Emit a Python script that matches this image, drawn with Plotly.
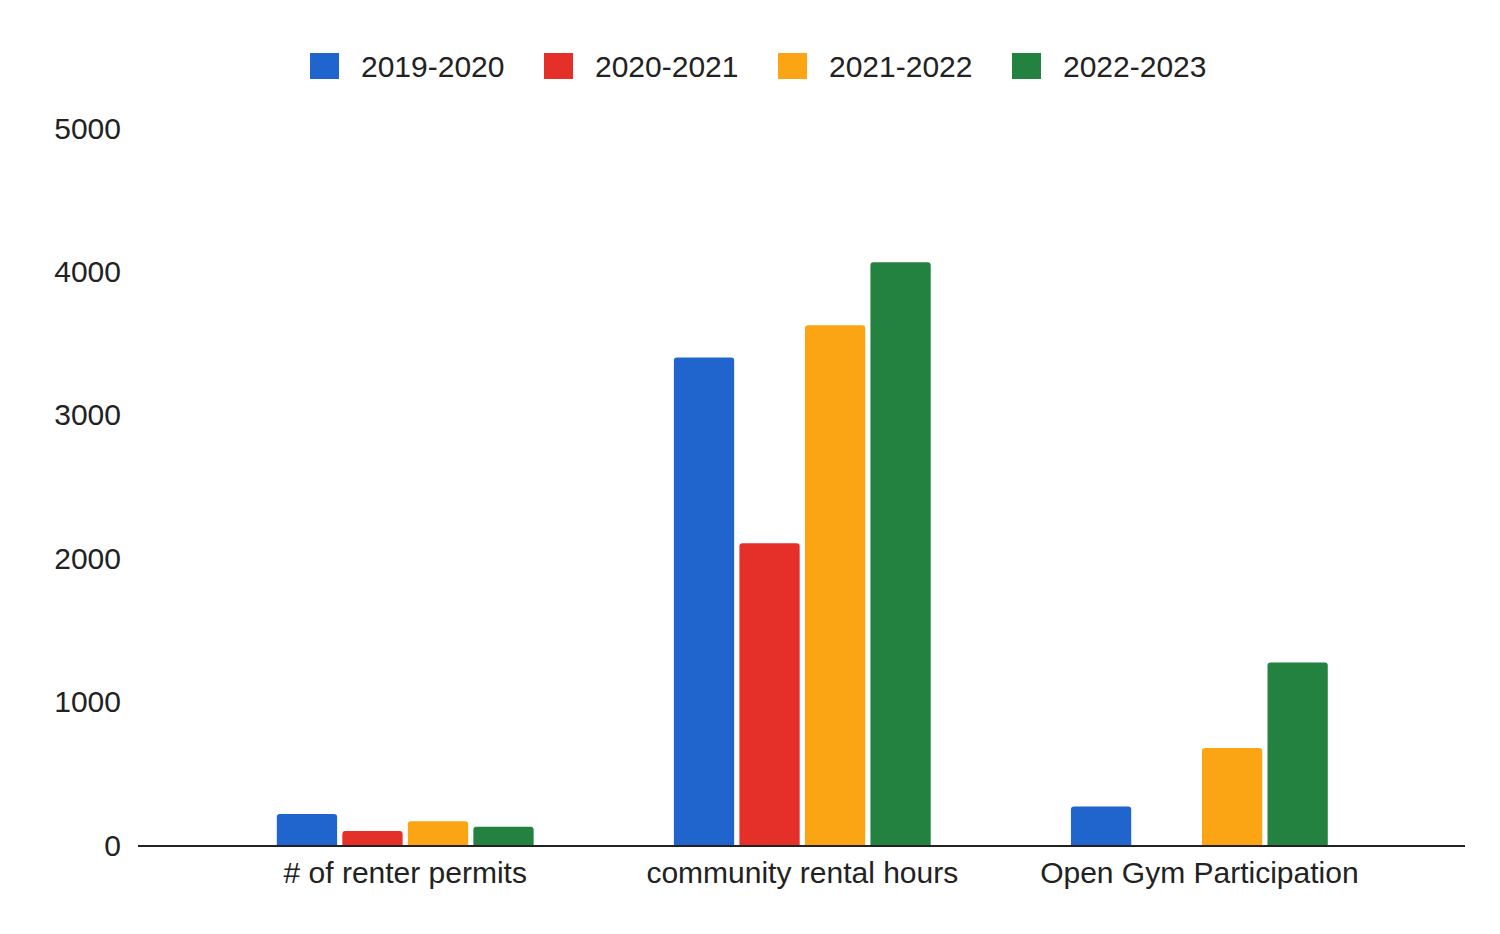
import plotly.graph_objects as go

categories = ["# of renter permits", "community rental hours", "Open Gym Participation"]
series_names = ["2019-2020", "2020-2021", "2021-2022", "2022-2023"]
values_2019_2020 = [216, 3400, 268]
values_2020_2021 = [97, 2105, 0]
values_2021_2022 = [165, 3624, 677]
values_2022_2023 = [128, 4064, 1272]
colors = ["#2064CD", "#E5302A", "#FBA414", "#23823F"]
y_ticks = [0, 1000, 2000, 3000, 4000, 5000]

all_values = [values_2019_2020, values_2020_2021, values_2021_2022, values_2022_2023]

# page geometry (the html body adds an 8px offset)
OFF = 8
PX0, PX1 = 138, 1465      # plot area x in page pixels
PY0, PY1 = 128, 845       # plot area y (top, bottom) in page pixels
W, H = 1500, 934
PW, PH = PX1 - PX0, PY1 - PY0

fig = go.Figure()
for name, vals, col in zip(series_names, all_values, colors):
    fig.add_trace(go.Bar(
        x=categories, y=vals, name=name, showlegend=False,
        marker=dict(color=col, line=dict(width=0), cornerradius=3),
    ))

font_family = "Liberation Sans, Arial, sans-serif"
fig.update_layout(
    width=W, height=H,
    paper_bgcolor="white", plot_bgcolor="white",
    margin=dict(l=PX0 - OFF, r=W + OFF - PX1, t=PY0 - OFF, b=H + OFF - PY1),
    barmode="group", bargap=0.34, bargroupgap=0.08,
    font=dict(family=font_family, size=30, color="#222"),
    showlegend=False,
    xaxis=dict(
        type="category", range=[-0.673, 2.669],
        showline=True, linecolor="#222", linewidth=2,
        showgrid=False, ticks="", tickfont=dict(size=30, color="#222"),
        fixedrange=True,
    ),
    yaxis=dict(
        range=[0, 5000], tickvals=y_ticks, ticktext=[str(v) for v in y_ticks],
        showgrid=False, zeroline=False, showline=False, ticks="",
        ticklabelstandoff=16, tickfont=dict(size=30, color="#222"),
    ),
)

# custom legend with large rounded squares (positions in page pixels)
legend_sq_x = [310, 544, 778, 1012]
legend_y = 66
shapes = []
annotations = []
for name, col, sx in zip(series_names, colors, legend_sq_x):
    shapes.append(dict(
        type="rect", xref="paper", yref="paper",
        x0=(sx - PX0) / PW, x1=(sx + 29 - PX0) / PW,
        y0=(PY1 - (legend_y + 13)) / PH, y1=(PY1 - (legend_y - 13)) / PH,
        fillcolor=col, line=dict(width=0),
    ))
    annotations.append(dict(
        xref="paper", yref="paper", x=(sx + 49 - PX0) / PW, y=(PY1 - legend_y) / PH,
        xanchor="left", yanchor="middle", text=name, showarrow=False,
        font=dict(size=30, color="#222", family=font_family),
    ))
fig.update_layout(shapes=shapes, annotations=annotations)

fig.write_html("out.html")
